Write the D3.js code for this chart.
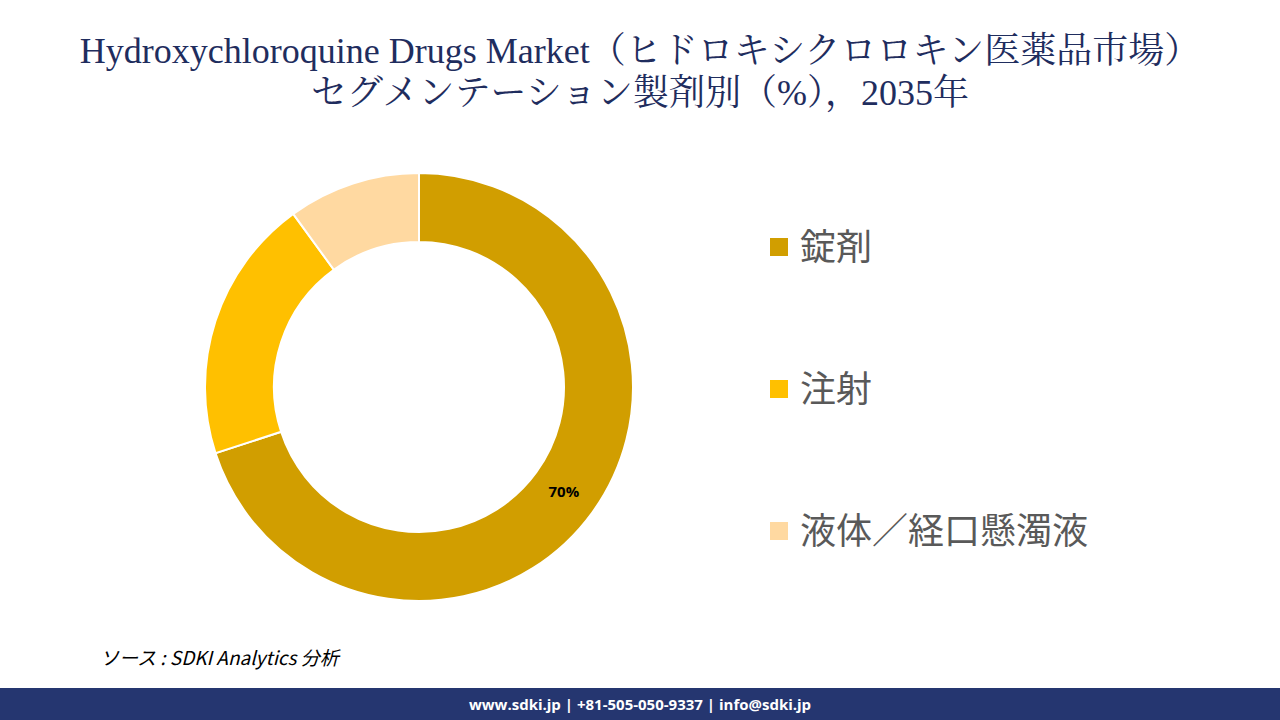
<!DOCTYPE html>
<html><head><meta charset="utf-8">
<script src="https://cdn.jsdelivr.net/npm/d3@7"></script>
<style>body{margin:0;background:#fff}</style></head>
<body><svg id="c" width="1280" height="720"></svg>
<script>
const categories = ["錠剤", "注射", "液体／経口懸濁液"];
const values = [70, 20, 10];
const colors = ["#D19E00", "#FFC000", "#FFD9A1"];
const titleLines = ["Hydroxychloroquine Drugs Market（ヒドロキシクロロキン医薬品市場）", "セグメンテーション製剤別（%），2035年"];

const svg = d3.select("#c");
svg.selectAll("text.t").data(titleLines).join("text")
  .attr("x", 640).attr("y", (d,i)=>63+i*42).attr("text-anchor","middle")
  .attr("font-family","'Liberation Serif','Noto Serif CJK JP','Noto Sans CJK JP',serif")
  .attr("font-size",36).attr("fill","#1f2d5e").text(d=>d);

const cx=419, cy=387;
const pie = d3.pie().sort(null).value(d=>d)(values);
const arc = d3.arc().innerRadius(145).outerRadius(214);
const g = svg.append("g").attr("transform",`translate(${cx},${cy})`);
g.selectAll("path").data(pie).join("path").attr("d",arc)
  .attr("fill",(d,i)=>colors[i]).attr("stroke","#fff").attr("stroke-width",2);
g.append("text").datum(pie[0]).attr("transform",d=>{const a=(d.startAngle+d.endAngle)/2;return `translate(${Math.sin(a)*179},${-Math.cos(a)*179})`;})
  .attr("text-anchor","middle").attr("dy","0.35em")
  .attr("font-family","'Open Sans',sans-serif").attr("font-weight","bold").attr("font-size",15)
  .text(d=>d.data+"%");

const lg = svg.selectAll("g.l").data(categories).join("g").attr("transform",(d,i)=>`translate(770,${247+i*142})`);
lg.append("rect").attr("x",0).attr("y",-9).attr("width",18).attr("height",18).attr("fill",(d,i)=>colors[i]);
lg.append("text").attr("x",30).attr("dy","0.36em").attr("font-family","'Noto Sans CJK JP',sans-serif")
  .attr("font-size",36).attr("fill","#595959").text(d=>d);

svg.append("text").attr("x",100).attr("y",665).attr("font-family","'Noto Sans CJK JP',sans-serif")
  .attr("font-style","italic").attr("font-size",19).attr("fill","#000").text("ソース : SDKI Analytics  分析");
svg.append("rect").attr("x",0).attr("y",688).attr("width",1280).attr("height",32).attr("fill","#253670");
svg.append("text").attr("x",640).attr("y",710).attr("text-anchor","middle").attr("font-family","'Open Sans',sans-serif")
  .attr("font-weight","bold").attr("font-size",15).attr("fill","#fff").text("www.sdki.jp | +81-505-050-9337 | info@sdki.jp");
</script></body></html>
